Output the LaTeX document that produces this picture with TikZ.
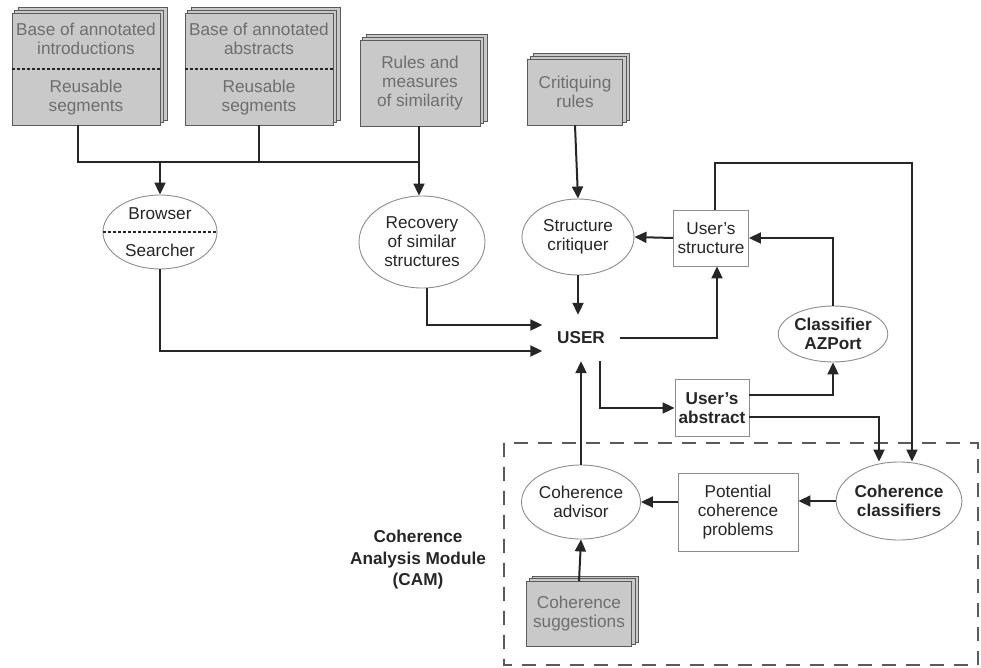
\documentclass[tikz,border=0pt]{standalone}
\usepackage{fontspec}
\setmainfont{Liberation Sans}
\usetikzlibrary{arrows.meta,backgrounds,shapes.geometric}
\definecolor{dbfill}{HTML}{C9C9C9}
\definecolor{dbedge}{HTML}{5A5A5A}
\definecolor{dbtext}{HTML}{6E6E6E}
\definecolor{procedge}{HTML}{8C8C8C}
\definecolor{linecol}{HTML}{262626}
\begin{document}
\begin{tikzpicture}[x=1pt,y=-1pt,
    font=\fontsize{17.2}{19}\selectfont,
    bold/.style={font=\fontsize{17.2}{19}\selectfont\bfseries},
    db/.style={rectangle,draw=dbedge,fill=dbfill,text=dbtext,line width=.9pt,
      inner sep=0pt,align=center},
    layer/.style={draw=dbedge,fill=dbfill,line width=.9pt},
    proc/.style={ellipse,draw=procedge,line width=.9pt,inner sep=0pt,align=center,text=linecol},
    store/.style={rectangle,draw=procedge,line width=.9pt,inner sep=0pt,align=center,text=linecol},
    split/.style={draw=linecol,line width=1.3pt,dash pattern=on 3pt off 2pt},
    conn/.style={draw=linecol,line width=2pt},
    arr/.style={conn,-{Triangle[length=12pt,width=11pt]}}]
  \useasboundingbox (0,0) rectangle (981,668);
  \draw[draw=dbedge,line width=1.8pt,dash pattern=on 14pt off 10pt] (504,443) rectangle (978,665);

  \node[db,minimum width=148pt,minimum height=112pt] (intro) at (86,69) {};
  \node[text=dbtext,align=center] (introtop) at (86,39) {Base of annotated\\introductions};
  \node[text=dbtext,align=center] (introbot) at (86,98) {Reusable\\segments};
  \node[db,minimum width=148pt,minimum height=112pt] (abstr) at (259,69) {};
  \node[text=dbtext,align=center] (abstrtop) at (259,39) {Base of annotated\\abstracts};
  \node[text=dbtext,align=center] (abstrbot) at (259,98) {Reusable\\segments};
  \draw[split] (intro.west) -- (intro.east);
  \draw[split] (abstr.west) -- (abstr.east);
  \node[db,minimum width=120pt,minimum height=86pt] (rules) at (420,83) {Rules and\\measures\\of similarity};
  \node[db,minimum width=95pt,minimum height=66pt] (crit) at (575,92) {Critiquing\\rules};

  \node[proc,minimum width=114pt,minimum height=74pt] (browser) at (160,232) {};
  \node[text=linecol] (browsertop) at (160,214) {Browser};
  \node[text=linecol] (browserbot) at (160,250) {Searcher};
  \draw[split] (browser.west) -- (browser.east);
  \node[proc,minimum width=126pt,minimum height=92pt] (recovery) at (422,242) {Recovery\\of similar\\structures};
  \node[proc,minimum width=112pt,minimum height=76pt] (critiquer) at (578,237) {Structure\\critiquer};
  \node[bold,text=linecol,minimum width=77pt,minimum height=46pt] (user) at (581,338) {USER};
  \node[store,minimum width=75pt,minimum height=56pt] (ustruct) at (711,238) {User's\\structure};
  \node[proc,bold,minimum width=100pt,minimum height=56pt] (azport) at (833,334) {Classifier\\AZPort};
  \node[store,bold,minimum width=74pt,minimum height=57pt] (uabs) at (712,408) {User's\\abstract};
  \node[proc,bold,minimum width=122pt,minimum height=78pt] (cohclass) at (899,501) {Coherence\\classifiers};
  \node[store,minimum width=120pt,minimum height=78pt] (potential) at (738,512) {Potential\\coherence\\problems};
  \node[proc,minimum width=112pt,minimum height=74pt] (advisor) at (581,502) {Coherence\\advisor};
  \node[db,minimum width=105pt,minimum height=65pt] (sugg) at (579,614) {Coherence\\suggestions};
  \node[bold,text=linecol,align=center,font=\fontsize{17.2}{21.5}\selectfont\bfseries] (cam) at (418,560) {Coherence\\Analysis Module\\(CAM)};

  \begin{scope}[on background layer]
    \foreach \n in {intro,abstr,rules,crit,sugg} {
      \draw[layer] ([shift={(6.5pt,5pt)}]\n.south west) rectangle ([shift={(6.5pt,5pt)}]\n.north east);
      \draw[layer] ([shift={(3.2pt,2.5pt)}]\n.south west) rectangle ([shift={(3.2pt,2.5pt)}]\n.north east);
    }
  \end{scope}

  \coordinate (busL) at (78,162);
  \coordinate (busR) at (419,162);
  \coordinate (loopR) at (912,163);
  \draw[conn] (intro.south -| busL) -- (busL) -- (busR);
  \draw[conn] (abstr.south) -- (abstr.south |- busL);
  \draw[arr] (rules.south -| busR) -- (recovery.north -| busR);
  \draw[arr] (browser.north |- busL) -- (browser.north);
  \draw[arr] (crit.south) -- (critiquer.north);
  \draw[arr] (browser.south) |- ([yshift=-13pt]user.west);
  \draw[arr] ([xshift=5pt]recovery.south) |- ([yshift=13pt]user.west);
  \draw[arr] (critiquer.south) -- (critiquer.south |- user.north);
  \draw[arr] (user.east) -| ([xshift=6pt]ustruct.south);
  \draw[arr] (ustruct.west) -- (critiquer.east);
  \draw[arr] (azport.north) |- (ustruct.east);
  \draw[arr] ([xshift=4pt]ustruct.north) |- (loopR) -- (loopR |- cohclass.north);
  \draw[arr] ([xshift=19pt]user.south) |- (uabs.west);
  \draw[arr] ([yshift=13pt]uabs.east) -| (azport.south);
  \draw[arr] ([yshift=-9pt]uabs.east) -| ([xshift=-20pt]cohclass.north);
  \draw[arr] (cohclass.west) -- (cohclass.west -| potential.east);
  \draw[arr] (advisor.east -| potential.west) -- (advisor.east);
  \draw[arr] (advisor.north) -- (user.south -| advisor.north);
  \draw[arr] (sugg.north) -- (advisor.south);
\end{tikzpicture}
\end{document}
